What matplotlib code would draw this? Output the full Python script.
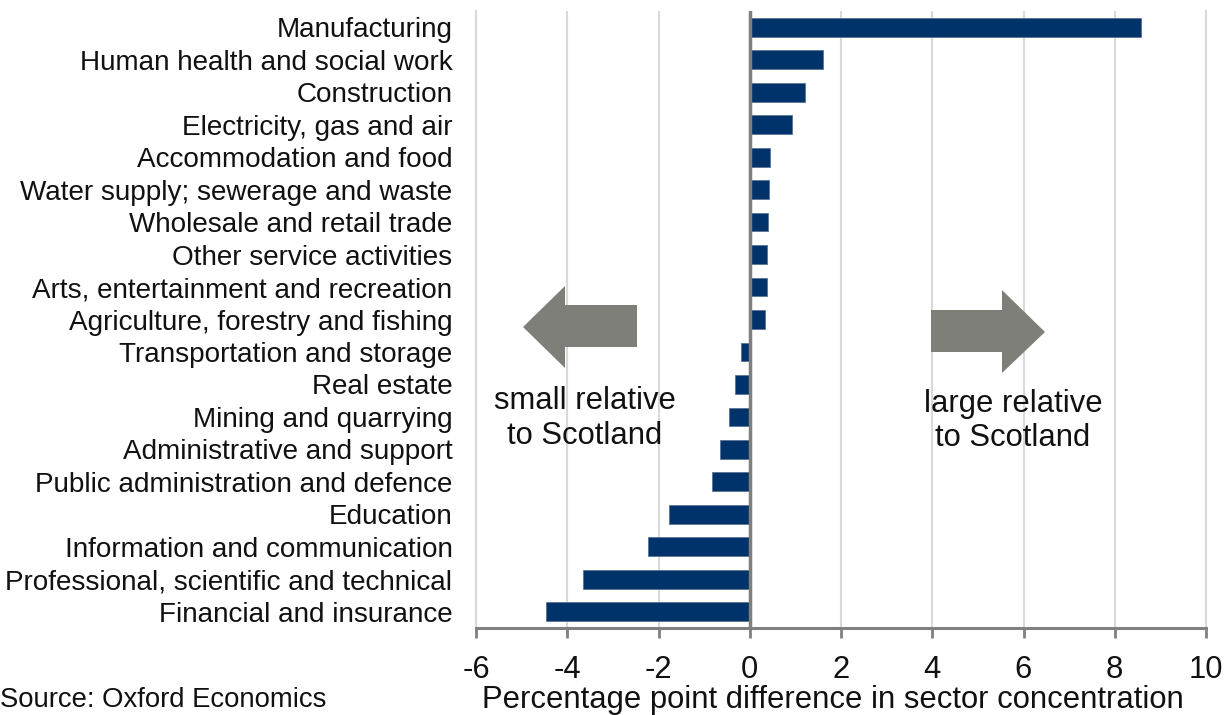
import matplotlib
matplotlib.use("Agg")
import matplotlib.pyplot as plt
from matplotlib.patches import Polygon

plt.rcParams['font.family'] = ['Liberation Sans', 'DejaVu Sans']

sectors = [
    "Manufacturing",
    "Human health and social work",
    "Construction",
    "Electricity, gas and air",
    "Accommodation and food",
    "Water supply; sewerage and waste",
    "Wholesale and retail trade",
    "Other service activities",
    "Arts, entertainment and recreation",
    "Agriculture, forestry and fishing",
    "Transportation and storage",
    "Real estate",
    "Mining and quarrying",
    "Administrative and support",
    "Public administration and defence",
    "Education",
    "Information and communication",
    "Professional, scientific and technical",
    "Financial and insurance",
]
differences = [8.57, 1.6, 1.22, 0.92, 0.44, 0.42, 0.40, 0.38, 0.37, 0.33,
               -0.2, -0.33, -0.46, -0.66, -0.83, -1.78, -2.22, -3.66, -4.47]
x_ticks = [-6, -4, -2, 0, 2, 4, 6, 8, 10]

W, H = 1229, 715
fig = plt.figure(figsize=(W / 100, H / 100), dpi=100)
ax = fig.add_axes([476 / W, 1 - 628 / H, (1206 - 476) / W, (628 - 11) / H])

ypos = list(range(len(sectors)))
ax.barh(ypos, differences, height=0.58, color='#00336a',
        edgecolor='#5a7396', linewidth=0.6, zorder=3)
ax.set_ylim(len(sectors) - 0.5, -0.5)
ax.set_xlim(-6, 10)
ax.set_yticks(ypos)
ax.set_yticklabels(sectors, fontsize=20.1, color='#111111')
ax.tick_params(axis='y', length=0, pad=17)
ax.set_xticks(x_ticks)
ax.set_xticklabels([str(v) for v in x_ticks], fontsize=22.3, color='#111111')
ax.tick_params(axis='x', length=7, width=2, color='#808080', pad=12.5,
               direction='out')

ax.grid(axis='x', color='#d9d9d9', linewidth=1.5, zorder=0)
ax.axvline(0, color='#7f7f7f', linewidth=2.5, zorder=4)

ax.spines['top'].set_visible(False)
for side in ('left', 'right'):
    ax.spines[side].set_color('#d9d9d9')
    ax.spines[side].set_linewidth(1.5)
ax.spines['bottom'].set_color('#808080')
ax.spines['bottom'].set_linewidth(2.2)

ax.set_xlabel("Percentage point difference in sector concentration",
              fontsize=22.3, color='#111111', labelpad=0)
ax.xaxis.label.set_x((832.5 - 476) / (1206 - 476))

fig.text(0, 1 - 700 / H, "Source: Oxford Economics", fontsize=19.8,
         color='#111111', ha='left', va='center')

# direction arrows
def px(points):
    return [(x / W, 1 - y / H) for x, y in points]

left_arrow = [(523, 327), (565, 286), (565, 305), (637, 305),
              (637, 347), (565, 347), (565, 368)]
right_arrow = [(931, 310), (1002, 310), (1002, 290), (1045, 332),
               (1002, 373), (1002, 352), (931, 352)]
for pts in (left_arrow, right_arrow):
    fig.patches.append(Polygon(px(pts), closed=True, transform=fig.transFigure,
                               facecolor='#7f7f7a', edgecolor='none', zorder=5))

fig.text(585 / W, 1 - 401 / H, "small relative", fontsize=22.3, ha='center',
         va='center', color='#111111')
fig.text(585 / W, 1 - 436 / H, "to Scotland", fontsize=22.3, ha='center',
         va='center', color='#111111')
fig.text(1013 / W, 1 - 404 / H, "large relative", fontsize=22.3, ha='center',
         va='center', color='#111111')
fig.text(1013 / W, 1 - 438 / H, "to Scotland", fontsize=22.3, ha='center',
         va='center', color='#111111')

fig.savefig("out.png", dpi=100)
